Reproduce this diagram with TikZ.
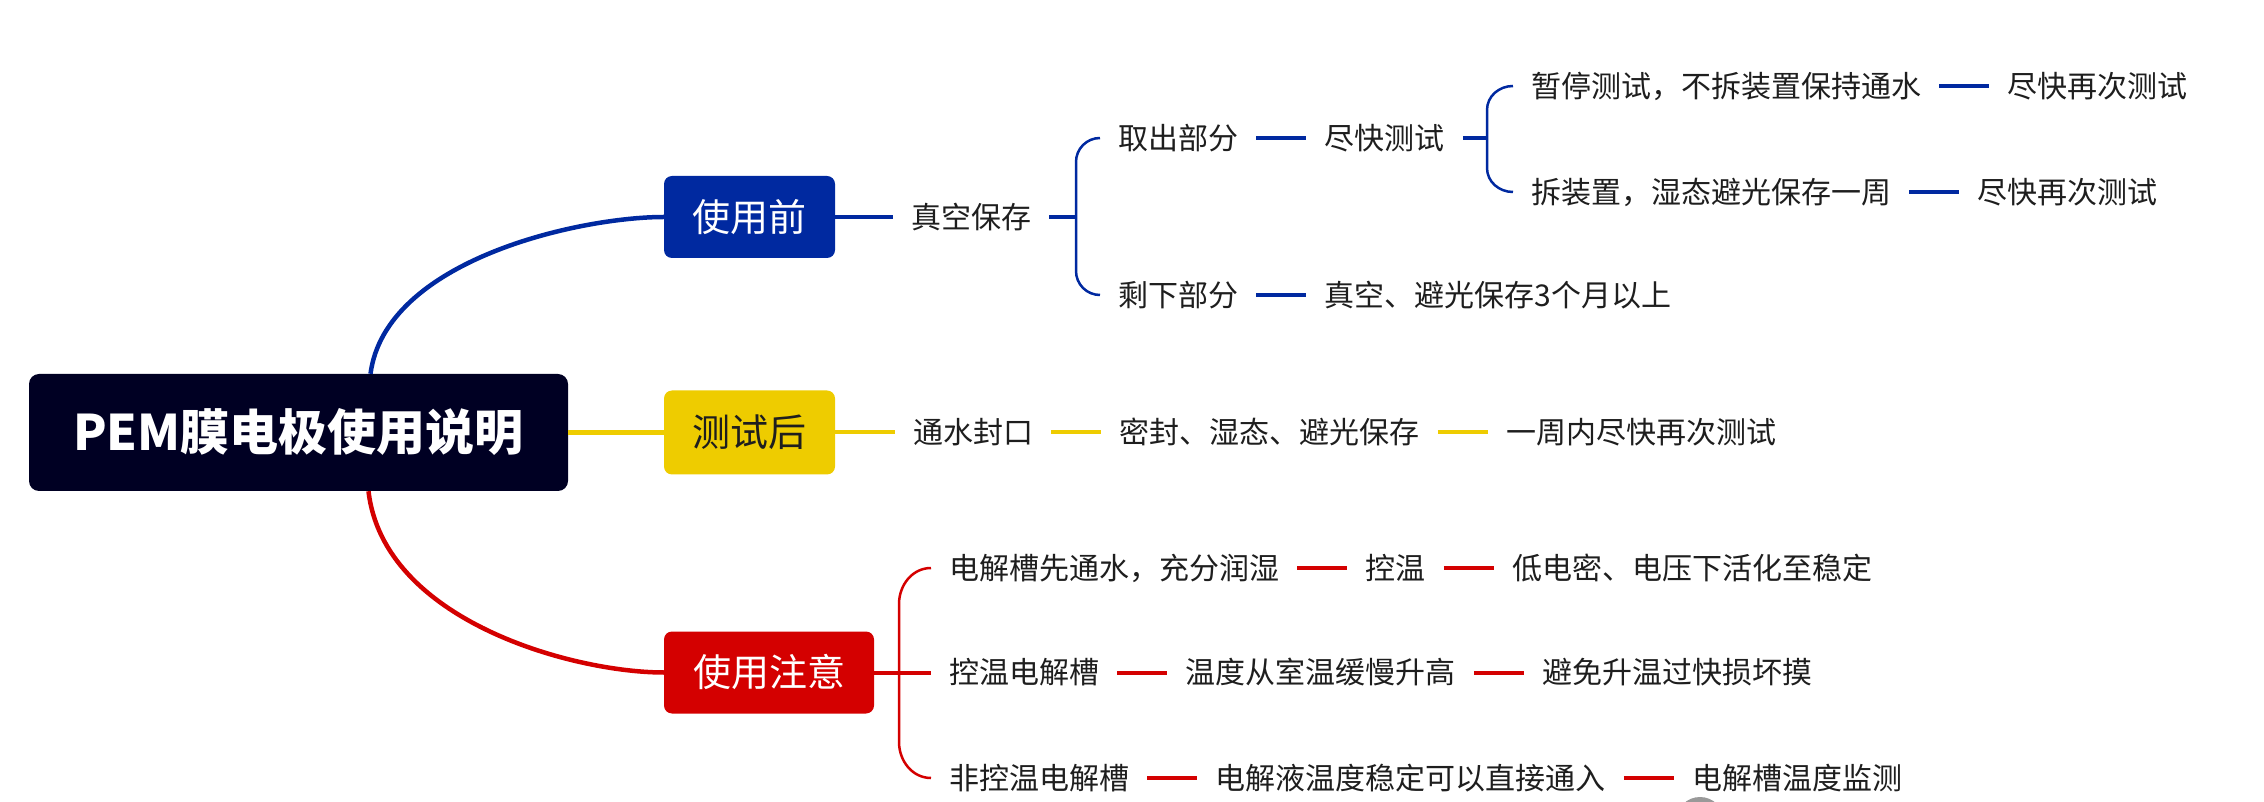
\documentclass[tikz,border=0pt]{standalone}
\usepackage{fontspec}
\setmainfont{Noto Sans CJK SC}
\usetikzlibrary{positioning,calc}
\definecolor{rootc}{RGB}{0,0,35}
\definecolor{bluec}{RGB}{0,41,160}
\definecolor{yelc}{RGB}{238,204,0}
\definecolor{redc}{RGB}{212,0,0}
\definecolor{txt}{RGB}{30,30,30}
\tikzset{
  rootbox/.style={fill=rootc, text=white, rounded corners=10pt, inner sep=0pt,
    minimum width=539pt, minimum height=117pt, text height=39pt, text depth=2.5pt,
    font=\fontsize{49}{49}\selectfont\bfseries},
  topicbox/.style={rounded corners=8pt, inner sep=0pt, minimum width=171pt,
    minimum height=82pt, text height=30.4pt, text depth=1.9pt,
    font=\fontsize{38}{38}\selectfont},
  lvl/.style={inner xsep=18pt, inner ysep=2pt, text height=24pt, text depth=1.5pt,
    text=txt, font=\fontsize{30}{30}\selectfont},
  mainline/.style={line width=4.5pt},
  subline/.style={line width=4pt},
  forkline/.style={line width=2.5pt},
}
\begin{document}
\begin{tikzpicture}[x=1pt,y=1pt]
  \useasboundingbox (0,0) rectangle (2264,801);
  % main topics
  \node[rootbox] (root) at (298.5,368.5) {PEM膜电极使用说明};
  \node[topicbox, fill=bluec, text=white] (before) at (749.5,584) {使用前};
  \node[topicbox, fill=yelc, text=txt, minimum height=84pt] (after) at (749.5,368.5) {测试后};
  \node[topicbox, fill=redc, text=white, minimum width=210pt] (notes) at (769,128.5) {使用注意};
  \draw[bluec, mainline] ([xshift=72pt]root.north) .. controls +(15,114) and +(-84,0) .. (before.west);
  \draw[yelc, mainline] (root) -- (after);
  \draw[redc, mainline] ([xshift=70pt]root.south) .. controls +(15,-130) and +(-90,0) .. (notes.west);

  % before use
  \node[lvl, anchor=west] (vacuum) at (893,584) {真空保存};
  \node[lvl, anchor=west] (takeout) at (1100,663) {取出部分};
  \node[lvl, right=50pt of takeout] (testsoon) {尽快测试};
  \node[lvl, anchor=west] (pause) at (1513,715) {暂停测试，不拆装置保持通水};
  \node[lvl, right=50pt of pause] (again1) {尽快再次测试};
  \node[lvl, anchor=west] (unload) at (1513,609) {拆装置，湿态避光保存一周};
  \node[lvl, right=50pt of unload] (again2) {尽快再次测试};
  \node[lvl, anchor=west] (rest) at (1100,506) {剩下部分};
  \node[lvl, right=50pt of rest] (store) {真空、避光保存3个月以上};
  \coordinate (vacfork) at ($(takeout.west |- vacuum.east)+(-24,0)$);
  \coordinate (testfork) at ($(pause.west |- testsoon.east)+(-26,0)$);
  \begin{scope}[bluec, subline]
    \draw (before) -- (vacuum);
    \draw (vacuum) -- (vacfork);
    \draw (takeout) -- (testsoon);
    \draw (testsoon) -- (testfork);
    \draw (pause) -- (again1);
    \draw (unload) -- (again2);
    \draw (rest) -- (store);
  \end{scope}
  \begin{scope}[bluec, forkline]
    \draw (takeout.west) to[out=180,in=90] ++(-24,-24) -- ($(rest.west)+(-24,24)$) to[out=-90,in=180] (rest.west);
    \draw (pause.west) to[out=180,in=90] ++(-26,-24) -- ($(unload.west)+(-26,24)$) to[out=-90,in=180] (unload.west);
  \end{scope}

  % after test
  \node[lvl, anchor=west] (seal) at (895,368.5) {通水封口};
  \node[lvl, right=50pt of seal] (wetstore) {密封、湿态、避光保存};
  \node[lvl, right=50pt of wetstore] (retest) {一周内尽快再次测试};
  \begin{scope}[yelc, subline]
    \draw (after) -- (seal);
    \draw (seal) -- (wetstore);
    \draw (wetstore) -- (retest);
  \end{scope}

  % notes
  \node[lvl, anchor=west] (soak) at (931,233) {电解槽先通水，充分润湿};
  \node[lvl, right=50pt of soak] (tempctl) {控温};
  \node[lvl, right=50pt of tempctl] (activate) {低电密、电压下活化至稳定};
  \node[lvl, anchor=west] (ctlcell) at (931,128.5) {控温电解槽};
  \node[lvl, right=50pt of ctlcell] (heatup) {温度从室温缓慢升高};
  \node[lvl, right=50pt of heatup] (avoid) {避免升温过快损坏摸};
  \node[lvl, anchor=west] (freecell) at (931,23) {非控温电解槽};
  \node[lvl, right=50pt of freecell] (direct) {电解液温度稳定可以直接通入};
  \node[lvl, right=50pt of direct] (monitor) {电解槽温度监测};
  \begin{scope}[redc, subline]
    \draw (notes) -- (ctlcell);
    \draw (soak) -- (tempctl);
    \draw (tempctl) -- (activate);
    \draw (ctlcell) -- (heatup);
    \draw (heatup) -- (avoid);
    \draw (freecell) -- (direct);
    \draw (direct) -- (monitor);
  \end{scope}
  \draw[redc, forkline] (soak.west) to[out=180,in=90] ++(-32,-36) -- ($(freecell.west)+(-32,36)$) to[out=-90,in=180] (freecell.west);

  \fill[black!40] (1700,-20) circle (24pt);
\end{tikzpicture}
\end{document}
